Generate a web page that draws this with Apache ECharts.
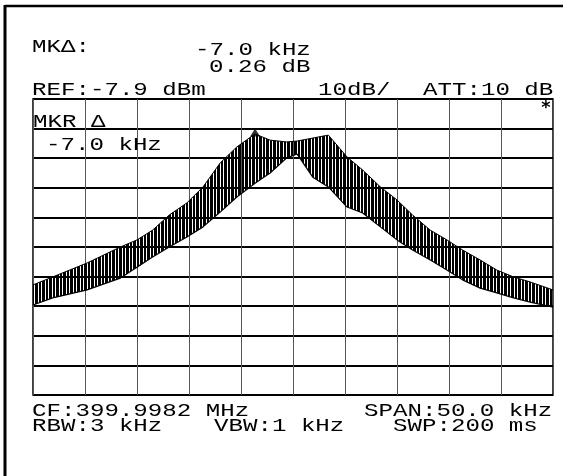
<!DOCTYPE html>
<html>
<head>
<meta charset="utf-8">
<script src="https://cdn.jsdelivr.net/npm/echarts@6/dist/echarts.min.js"></script>
<style>
  html, body { margin: 0; padding: 0; background: #fff; }
  #chart { width: 573px; height: 476px; }
</style>
</head>
<body>
<div id="chart"></div>
<script>
// Frequency offset from centre (kHz), span 50 kHz
const FREQ  = [-25, -23.1, -19.8, -16.6, -15, -13.5, -11.9, -10.2, -8.65, -7, -5.4, -3.65, -2.2, -0.6, 0.4, 1.9, 3.4, 5.2, 6.7, 8.4, 10, 11.5, 13.2, 14.8, 16.3, 18, 19.6, 21.2, 22.8, 25];
// Upper envelope of the trace (dB relative to REF)
const UPPER = [-62.8, -60.1, -55.4, -50, -47.6, -44.3, -39.2, -35.1, -29.7, -21.6, -16.2, -11.8, -13.9, -14.5, -14.2, -13.2, -12.2, -19.6, -24, -29.7, -34.1, -39.2, -44.3, -47.6, -51, -54.4, -57.8, -60.1, -61.8, -64.5];
// Lower envelope of the trace (dB relative to REF)
const LOWER = [-69.6, -67.2, -64.5, -60.5, -56.8, -53.4, -50, -46.6, -43.2, -38.2, -33.1, -28.5, -25, -19.9, -18.6, -26.4, -29.7, -36.5, -38.5, -43.2, -47.6, -51, -54.4, -57.8, -61.1, -63.9, -65.5, -67.2, -68.6, -70.3];
// Markers: [kHz, dB]
const MARKER_REF = [-3.65, -11.3];
const MARKER_DELTA = [3.4, -11.8];

const HEADER_LINES = [
  { text: 'MKΔ:', x: 32, y: 47 },
  { text: '-7.0 kHz', x: 195, y: 50 },
  { text: '0.26 dB', x: 209, y: 67 },
  { text: 'REF:-7.9 dBm', x: 32, y: 90 },
  { text: '10dB/', x: 318, y: 90 },
  { text: 'ATT:10 dB', x: 423, y: 90 },
  { text: 'MKR Δ', x: 33, y: 122 },
  { text: '-7.0 kHz', x: 46, y: 145 },
  { text: 'CF:399.9982 MHz', x: 32, y: 411 },
  { text: 'SPAN:50.0 kHz', x: 364, y: 411 },
  { text: 'RBW:3 kHz', x: 32, y: 426 },
  { text: 'VBW:1 kHz', x: 214, y: 426 },
  { text: 'SWP:200 ms', x: 393, y: 426 }
];

// hatch pattern for the dense comb of spectral lines
const pc = document.createElement('canvas');
pc.width = 7; pc.height = 8;
const pctx = pc.getContext('2d');
pctx.fillStyle = '#000';
pctx.fillRect(0, 0, 3, 8);
pctx.fillRect(4, 0, 2, 8);

const chart = echarts.init(document.getElementById('chart'), null, { renderer: 'canvas' });

const FONT = '19px "Liberation Mono"';
const SX = 1.27;
const texts = HEADER_LINES.map(t => ({
  type: 'text', x: t.x, y: t.y, scaleX: SX, z: 100,
  style: { text: t.text, font: FONT, fill: '#000', textAlign: 'left', textVerticalAlign: 'middle' }
}));

const traceData = FREQ.map((f, i) => [f, UPPER[i], LOWER[i]]);

function renderBand(params, api) {
  if (params.dataIndex !== 0) return null;
  const pts = [];
  for (let i = 0; i < FREQ.length; i++) pts.push(api.coord([FREQ[i], UPPER[i]]));
  for (let i = FREQ.length - 1; i >= 0; i--) pts.push(api.coord([FREQ[i], LOWER[i]]));
  return {
    type: 'polygon',
    shape: { points: pts },
    style: { fill: { image: pc, repeat: 'repeat' }, stroke: null }
  };
}

const option = {
  backgroundColor: '#fff',
  animation: false,
  grid: { left: 33, right: 20, top: 99, bottom: 81, show: true, borderColor: '#000', borderWidth: 1.5, backgroundColor: 'transparent' },
  xAxis: {
    type: 'value', min: -25, max: 25, interval: 5,
    axisLabel: { show: false }, axisTick: { show: false }, axisLine: { show: false },
    splitLine: { show: true, lineStyle: { color: '#555', width: 1 } }
  },
  yAxis: {
    type: 'value', min: -100, max: 0, interval: 10,
    axisLabel: { show: false }, axisTick: { show: false }, axisLine: { show: false },
    splitLine: { show: true, lineStyle: { color: '#000', width: 2 } }
  },
  series: [
    {
      name: 'band', type: 'custom', renderItem: renderBand,
      data: traceData, encode: { x: 0, y: [1, 2] }, z: 3, silent: true
    },
    {
      name: 'upper', type: 'line', data: FREQ.map((f, i) => [f, UPPER[i]]),
      symbol: 'none', lineStyle: { color: '#000', width: 1 }, z: 4
    },
    {
      name: 'lower', type: 'line', data: FREQ.map((f, i) => [f, LOWER[i]]),
      symbol: 'none', lineStyle: { color: '#000', width: 1.2 }, z: 4
    },
    {
      name: 'ref marker', type: 'scatter', data: [MARKER_REF],
      symbol: 'triangle', symbolSize: [10, 8], itemStyle: { color: '#000' }, z: 5
    },
    {
      name: 'delta marker', type: 'scatter', data: [MARKER_DELTA],
      symbol: 'none', z: 5,
      label: { show: true, position: 'inside', formatter: '✱', fontSize: 12, color: '#000' }
    }
  ],
  graphic: texts.concat([
    { type: 'text', x: 546, y: 108, z: 100, style: { text: '*', font: 'bold 18px "DejaVu Sans Mono"', fill: '#000', textAlign: 'center', textVerticalAlign: 'middle' } },
    { type: 'line', z: 100, shape: { x1: 5, y1: 6, x2: 563, y2: 6 }, style: { stroke: '#000', lineWidth: 2.5 } },
    { type: 'line', z: 100, shape: { x1: 5, y1: 5, x2: 5, y2: 476 }, style: { stroke: '#000', lineWidth: 3 } }
  ])
};
chart.setOption(option);
</script>
</body>
</html>
